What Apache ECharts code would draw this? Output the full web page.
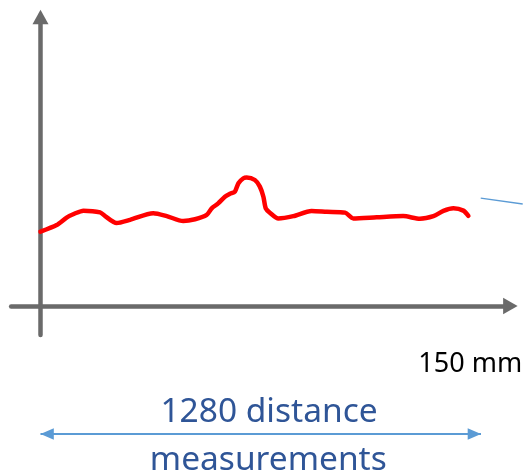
<!DOCTYPE html>
<html>
<head>
<meta charset="utf-8">
<script src="https://cdn.jsdelivr.net/npm/echarts@6/dist/echarts.min.js"></script>
<style>
  html, body { margin: 0; padding: 0; background: #ffffff; }
  #chart { width: 523px; height: 476px; }
</style>
</head>
<body>
<div id="chart"></div>
<script>
// ---- data ----
// position along the scan, mm
const distanceMm = [0, 5.5, 8.9, 11.7, 14.6, 20.3, 22.0, 25.9, 30.5, 38.4, 43.0, 48.6, 52.6, 56.6, 58.3, 60.5, 62.8, 64.5, 66.2, 67.4, 69.1, 70.2, 73.0, 74.7, 75.9, 76.7, 78.1, 81.0, 86.1, 92.3, 97.5, 103.7, 106.5, 114.5, 123.5, 129.2, 133.8, 137.2, 140.6, 144.0, 145.7];
// measured profile height (arbitrary units)
const profileHeight = [25.7, 28.0, 30.6, 32.0, 33.0, 32.4, 31.1, 28.7, 29.8, 32.1, 31.1, 29.4, 30.0, 31.5, 33.8, 35.5, 37.8, 38.8, 39.6, 42.5, 44.2, 44.5, 43.6, 41.3, 37.8, 33.8, 32.3, 30.3, 31.1, 32.9, 32.6, 32.3, 30.3, 30.7, 31.1, 30.2, 31.1, 32.9, 33.8, 33.0, 31.2];
// short leader line at the right edge
const leaderX = [149.9, 164.2];
const leaderY = [37.3, 35.3];
// measured span (mm)
const spanMm = [0, 150];
// texts
const spanLabel = '150 mm';
const countLabelTop = '1280 distance';
const countLabelBottom = 'measurements';

// ---- chart ----
const profileData = distanceMm.map((d, i) => [d, profileHeight[i]]);
const leaderData = leaderX.map((d, i) => [d, leaderY[i]]);

const FONT = '"Noto Sans", "Open Sans", sans-serif';
const AXIS_GREY = '#6a6a6a';

const chart = echarts.init(document.getElementById('chart'), null, { renderer: 'canvas' });

chart.setOption({
  animation: false,
  backgroundColor: '#ffffff',
  grid: [
    { left: 11.13, right: 12.63, top: 17, bottom: 141.1 },
    { left: 11.13, right: 12.63, top: 424, height: 20 },
    { left: 11.13, right: 0, top: 17, bottom: 141.1 }
  ],
  xAxis: [
    {
      type: 'value', gridIndex: 0, min: -10, max: 160,
      axisLine: {
        show: true, onZero: true,
        symbol: ['none', 'triangle'], symbolSize: [16.5, 14.5],
        lineStyle: { color: AXIS_GREY, width: 4.5 }
      },
      axisTick: { show: false }, axisLabel: { show: false }, splitLine: { show: false }
    },
    { type: 'value', gridIndex: 1, min: -10, max: 160, show: false },
    { type: 'value', gridIndex: 2, min: -10, max: 164.3, show: false }
  ],
  yAxis: [
    {
      type: 'value', gridIndex: 0, min: -10, max: 100,
      axisLine: {
        show: true, onZero: true,
        symbol: ['none', 'triangle'], symbolSize: [16, 14.5],
        lineStyle: { color: AXIS_GREY, width: 4.5 }
      },
      axisTick: { show: false }, axisLabel: { show: false }, splitLine: { show: false }
    },
    { type: 'value', gridIndex: 1, min: -1, max: 1, show: false },
    { type: 'value', gridIndex: 2, min: -10, max: 100, show: false }
  ],
  series: [
    {
      type: 'line',
      xAxisIndex: 0, yAxisIndex: 0,
      data: profileData,
      smooth: 0.25,
      showSymbol: false,
      symbol: 'none',
      lineStyle: { color: '#ff0000', width: 4.5, cap: 'round', join: 'round' },
      z: 5
    },
    {
      type: 'line',
      xAxisIndex: 2, yAxisIndex: 2,
      data: leaderData,
      showSymbol: false,
      symbol: 'none',
      clip: false,
      lineStyle: { color: '#5b9bd5', width: 1.3 }
    },
    {
      type: 'line',
      xAxisIndex: 1, yAxisIndex: 1,
      data: [[spanMm[0], 0]],
      showSymbol: false,
      symbol: 'none',
      lineStyle: { opacity: 0 },
      markLine: {
        silent: true,
        animation: false,
        symbol: ['triangle', 'triangle'],
        symbolSize: [11.5, 13.3],
        symbolOffset: [[0, 6.65], [0, 6.65]],
        label: { show: false },
        lineStyle: { color: '#5b9bd5', width: 2, type: 'solid' },
        emphasis: { disabled: true },
        data: [[{ coord: [spanMm[0], 0] }, { coord: [spanMm[1], 0] }]]
      }
    }
  ],
  graphic: [
    {
      type: 'text', x: 418.3, y: 364,
      style: { text: spanLabel, fontFamily: FONT, fontSize: 27, fill: '#000000', align: 'left', verticalAlign: 'middle' }
    },
    {
      type: 'text', x: 269, y: 412.8,
      style: { text: countLabelTop, fontFamily: FONT, fontSize: 33.5, fill: '#2f5597', align: 'center', verticalAlign: 'middle' }
    },
    {
      type: 'text', x: 268.3, y: 460,
      style: { text: countLabelBottom, fontFamily: FONT, fontSize: 33.5, fill: '#2f5597', align: 'center', verticalAlign: 'middle' }
    }
  ]
});
</script>
</body>
</html>
